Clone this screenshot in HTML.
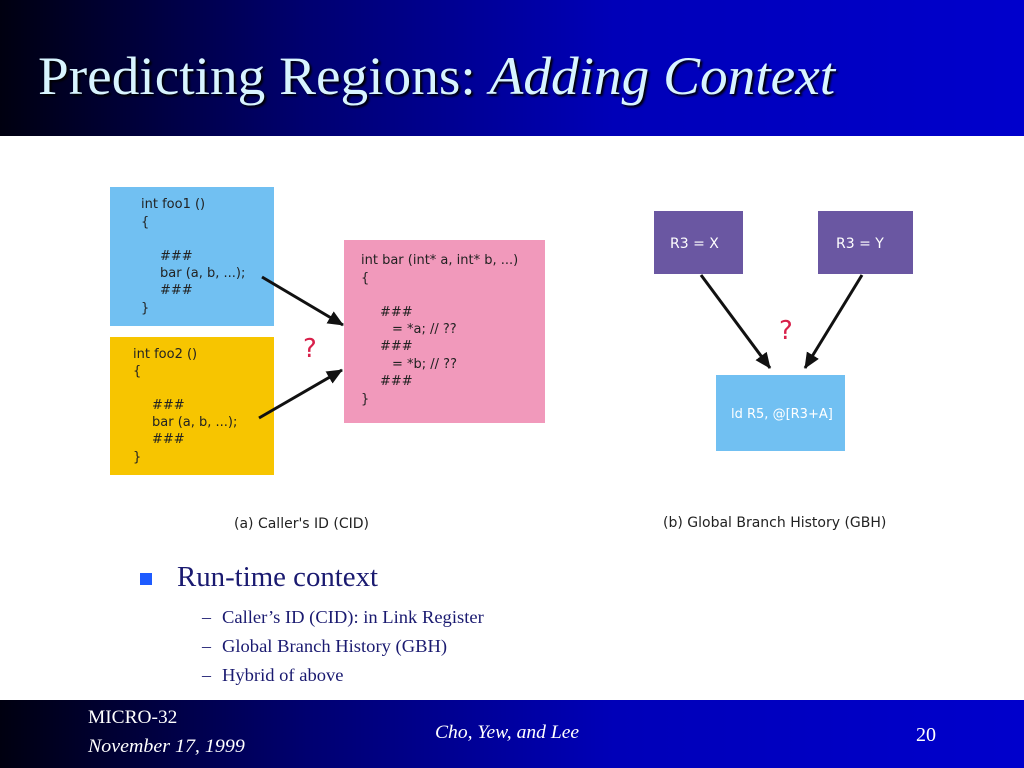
<!DOCTYPE html>
<html><head><meta charset="utf-8"><style>
body{margin:0;width:1024px;height:768px;overflow:hidden;background:#fff;position:relative;font-family:"Liberation Serif",serif}
.hdr{position:absolute;left:0;top:0;width:1024px;height:136px;background:linear-gradient(90deg,#000010 0%,#000070 30%,#0000b8 60%,#0000cc 100%)}
.ftr{position:absolute;left:0;top:700px;width:1024px;height:68px;background:linear-gradient(90deg,#000010 0%,#000070 30%,#0000b8 60%,#0000cc 100%)}
.t{position:absolute;color:#d8f4ff;text-shadow:2px 2px 2px #000;transform-origin:0 0;white-space:nowrap}
.w{position:absolute;color:#fff;transform-origin:0 0;white-space:nowrap}
.b{position:absolute;color:#1a1a70;white-space:nowrap;transform-origin:0 0}
</style></head><body>
<div class="hdr"></div>
<div class="t" style="left:38px;top:44px;font-size:54px;line-height:64px;transform:scaleX(1.024)">Predicting Regions: <i>Adding Context</i></div>
<svg style="position:absolute;left:0;top:0" width="1024" height="768">
<defs><marker id="a2" markerWidth="16" markerHeight="14" refX="15" refY="7" orient="auto" markerUnits="userSpaceOnUse"><path d="M0,0 L16,7 L0,14 z" fill="#111"/></marker></defs>
<rect x="110" y="187" width="164" height="139" fill="#71c0f2"/>
<rect x="110" y="337" width="164" height="138" fill="#f7c500"/>
<rect x="344" y="240" width="201" height="183" fill="#f199bb"/>
<rect x="654" y="211" width="89" height="63" fill="#6a57a2"/>
<rect x="818" y="211" width="95" height="63" fill="#6a57a2"/>
<rect x="716" y="375" width="129" height="76" fill="#71c0f2"/>
<g stroke="#111" stroke-width="3" fill="none">
<line x1="262" y1="277" x2="343" y2="325" marker-end="url(#a2)"/>
<line x1="259" y1="418" x2="342" y2="370" marker-end="url(#a2)"/>
<line x1="701" y1="275" x2="770" y2="368" marker-end="url(#a2)"/>
<line x1="862" y1="275" x2="805" y2="368" marker-end="url(#a2)"/>
</g>
<g font-family="DejaVu Sans,sans-serif" font-size="13" fill="#222">
<text x="141" y="208">int foo1 ()</text><text x="141" y="226">{</text>
<text x="160" y="260">###</text><text x="160" y="277">bar (a, b, ...);</text><text x="160" y="294">###</text><text x="141" y="312">}</text>
<text x="133" y="358">int foo2 ()</text><text x="133" y="375">{</text>
<text x="152" y="409">###</text><text x="152" y="426">bar (a, b, ...);</text><text x="152" y="443">###</text><text x="133" y="461">}</text>
<text x="361" y="264">int bar (int* a, int* b, ...)</text><text x="361" y="282">{</text>
<text x="380" y="316">###</text><text x="392" y="333">= *a;  // ??</text><text x="380" y="350">###</text><text x="392" y="368">= *b;  // ??</text><text x="380" y="385">###</text><text x="361" y="403">}</text>
<text x="670" y="248" fill="#fff" font-size="14">R3 = X</text>
<text x="836" y="248" fill="#fff" font-size="14">R3 = Y</text>
<text x="731" y="418" fill="#fff" font-size="13">ld R5, @[R3+A]</text>
<text x="234" y="528" font-size="14">(a) Caller's ID (CID)</text>
<text x="663" y="527" font-size="14">(b) Global Branch History (GBH)</text>
</g>
<g font-family="DejaVu Sans,sans-serif" font-size="26" fill="#d8204a">
<text x="303" y="357">?</text><text x="779" y="339">?</text>
</g>
<rect x="140" y="573" width="12" height="12" fill="#1e5bff"/>
</svg>
<div class="b" style="left:177px;top:562px;font-size:28px;transform:scaleX(1.03)">Run-time context</div>
<div class="b" style="left:202px;top:603px;font-size:18px;line-height:29px">–<br>–<br>–</div>
<div class="b" style="left:222px;top:603px;font-size:18px;line-height:29px;transform:scaleX(1.03)">Caller’s ID (CID): in Link Register<br>Global Branch History (GBH)<br>Hybrid of above</div>
<div class="ftr"></div>
<div class="w" style="left:88px;top:707px;font-size:19px;transform:scaleX(1.02)">MICRO-32</div>
<div class="w" style="left:88px;top:736px;font-size:19px;transform:scaleX(1.05)"><i>November 17, 1999</i></div>
<div class="w" style="left:435px;top:722px;font-size:19px;transform:scaleX(1.03)"><i>Cho, Yew, and Lee</i></div>
<div class="w" style="left:916px;top:724px;font-size:20px">20</div>
</body></html>
